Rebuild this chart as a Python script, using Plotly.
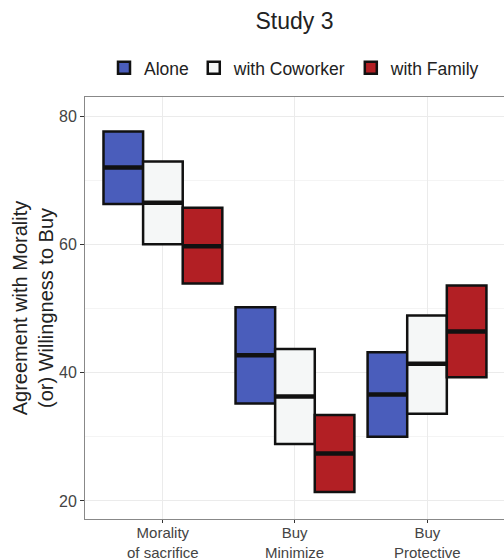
import plotly.graph_objects as go

categories = ["Morality<br>of sacrifice", "Buy<br>Minimize", "Buy<br>Protective"]
groups = ["Alone", "with Coworker", "with Family"]
means = {
    "Alone": [72.0, 42.7, 36.6],
    "with Coworker": [66.5, 36.3, 41.4],
    "with Family": [59.7, 27.4, 46.4],
}
lowers = {
    "Alone": [66.3, 35.2, 30.0],
    "with Coworker": [60.0, 28.9, 33.6],
    "with Family": [53.9, 21.4, 39.3],
}
uppers = {
    "Alone": [77.6, 50.2, 43.2],
    "with Coworker": [72.9, 43.7, 48.9],
    "with Family": [65.7, 33.4, 53.6],
}
colors = {"Alone": "#4A5DBB", "with Coworker": "#F5F7F7", "with Family": "#B21F24"}
yticks = [20, 40, 60, 80]

xpos = [1, 2, 3]
dodge = 0.9
bw = dodge / len(groups)

fig = go.Figure()
for gi, g in enumerate(groups):
    fig.add_trace(go.Bar(
        x=xpos, y=[u - l for u, l in zip(uppers[g], lowers[g])], base=lowers[g],
        name=g, marker=dict(color=colors[g], line=dict(color="#111111", width=2.5)),
        hoverinfo="skip",
    ))
for gi, g in enumerate(groups):
    off = -dodge / 2 + bw * gi
    xs, ys = [], []
    for c, m in zip(xpos, means[g]):
        xs += [c + off + 0.005, c + off + bw - 0.005, None]
        ys += [m, m, None]
    fig.add_trace(go.Scatter(x=xs, y=ys, mode="lines", line=dict(color="#111111", width=4.5),
                             showlegend=False, hoverinfo="skip"))

# category labels under the axis
for c, lab in zip(xpos, categories):
    fig.add_annotation(x=c, xref="x", y=0, yref="paper", yanchor="top", yshift=-3,
                       text=lab, showarrow=False, align="center",
                       font=dict(size=15, color="#444444"))

fig.update_layout(
    width=504, height=560,
    margin=dict(l=85, r=0, t=97, b=41),
    paper_bgcolor="white", plot_bgcolor="white",
    barmode="group", bargap=0.1, bargroupgap=0,
    font=dict(family="Liberation Sans, Arial, sans-serif", color="#222222"),
    title=dict(text="Study 3", x=0.5, xref="paper", xanchor="center", y=0.962, yanchor="middle",
               font=dict(size=23, color="#222222"), automargin=False),
    legend=dict(orientation="h", x=0.5, xanchor="center", y=1.069, yanchor="middle",
                font=dict(size=17.5, color="#222222"), itemwidth=30, traceorder="normal"),
    showlegend=True,
)
fig.update_xaxes(
    range=[0.41, 3.583], tickvals=xpos, showticklabels=False, automargin=False,
    showgrid=True, gridcolor="#EBEBEB", gridwidth=1,
    showline=True, linecolor="#888888", linewidth=1, mirror=True,
    ticks="outside", ticklen=3, tickcolor="#333333", zeroline=False,
)
fig.update_yaxes(
    range=[17.19, 82.97], tickvals=yticks, automargin=False,
    showgrid=True, gridcolor="#EBEBEB", gridwidth=1,
    minor=dict(tickvals=[30, 50, 70], showgrid=True, gridcolor="#F4F4F4", gridwidth=1),
    showline=True, linecolor="#888888", linewidth=1, mirror=True,
    ticks="outside", ticklen=4, tickcolor="#333333",
    tickfont=dict(size=16, color="#444444"), zeroline=False,
    title=dict(text="Agreement with Morality<br>(or) Willingness to Buy", font=dict(size=20, color="#222222"),
               standoff=0),
)
fig.write_html("out.html")
